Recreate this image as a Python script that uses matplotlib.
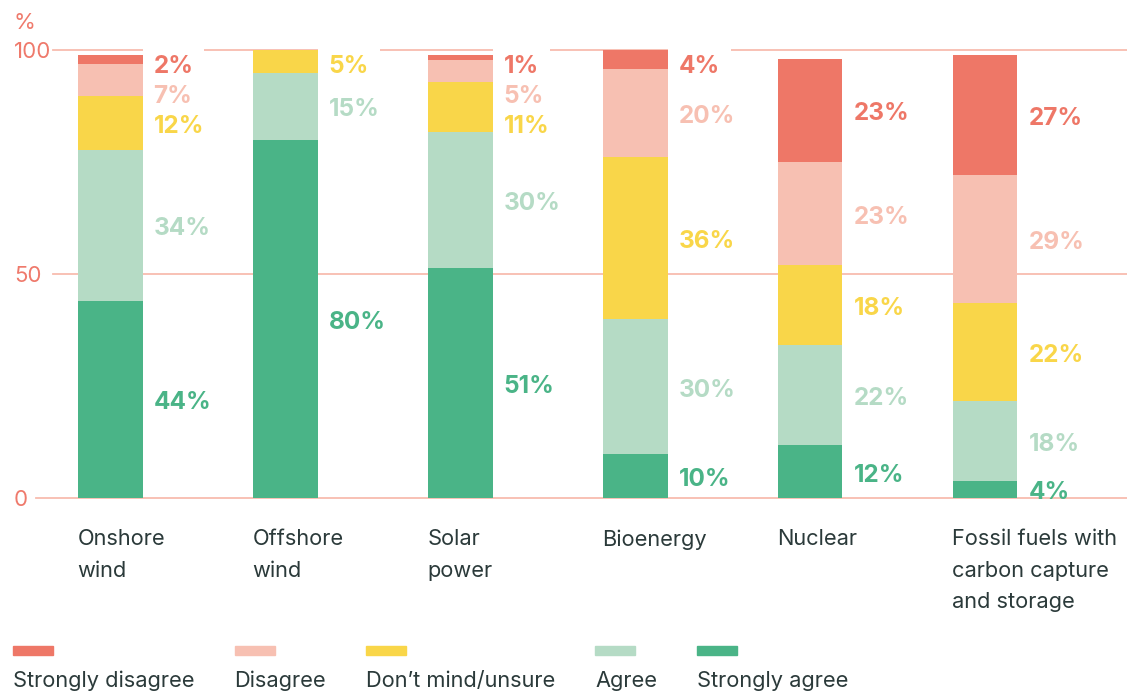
import matplotlib
matplotlib.use("Agg")
import matplotlib.pyplot as plt
from matplotlib.patches import Rectangle
import matplotlib.transforms as mtransforms
import numpy as np

categories = ["Onshore\nwind", "Offshore\nwind", "Solar\npower", "Bioenergy",
              "Nuclear", "Fossil fuels with\ncarbon capture\nand storage"]
strongly_agree = [44.0, 79.9, 51.3, 9.8, 11.8, 3.8]
agree = [33.7, 15.0, 30.4, 30.1, 22.3, 17.9]
unsure = [12.0, 5.1, 11.2, 36.2, 17.9, 21.8]
disagree = [7.2, 0.0, 4.9, 19.6, 23.0, 28.6]
strongly_disagree = [2.0, 0.0, 1.1, 4.2, 23.0, 26.8]
legend_labels = ["Strongly disagree", "Disagree", "Don\u2019t mind/unsure",
                 "Agree", "Strongly agree"]

colors = {
    "sa": "#4AB487",
    "a": "#B5DBC5",
    "u": "#F9D649",
    "d": "#F7C0B2",
    "sd": "#EE7767",
}
GRID = "#F8BCAF"
TICK = "#EF7A6C"
TEXT = "#2B3A3A"

plt.rcParams["font.family"] = ["Inter", "DejaVu Sans"]

W, H = 1127, 691
fig = plt.figure(figsize=(W / 100, H / 100), dpi=100)
ax = fig.add_axes([53 / W, (H - 498) / H, (W - 53) / W, 448 / H])
ax.set_xlim(-57 / 175, (W - 53 - 57) / 175)
ax.set_ylim(0, 100)
ax.axis("off")

# gridlines
for g in [50, 100]:
    ax.axhline(g, color=GRID, lw=1.3, zorder=0, clip_on=False)
ax.axhline(0, xmin=-17 / (W - 53), xmax=1, color=GRID, lw=1.3, zorder=0, clip_on=False)

ylab = mtransforms.blended_transform_factory(fig.transFigure, ax.transData)
for g in [0, 50, 100]:
    ax.text(14 / W, g, str(g), transform=ylab, ha="left", va="center_baseline",
            color=TICK, fontsize=16)
fig.text(14 / W, 1 - 21 / H, "%", ha="left", va="center_baseline", color=TICK,
         fontsize=16)

x = np.arange(len(categories))
width = 65 / 175
series = [("sa", strongly_agree), ("a", agree), ("u", unsure),
          ("d", disagree), ("sd", strongly_disagree)]

bottom = np.zeros(len(categories))
centers = []
for key, vals in series:
    vals = np.array(vals)
    ax.bar(x, vals, width, bottom=bottom, color=colors[key], zorder=2, clip_on=False)
    centers.append((key, vals, bottom + vals / 2))
    bottom = bottom + vals

# value labels, pushed apart from the top down
for i in range(len(categories)):
    prev = None
    for key, vals, ctr in reversed(centers):
        v = vals[i]
        if v <= 0:
            continue
        y = min(ctr[i], 97.0)
        if prev is not None:
            y = min(y, prev - 6.6)
        y = max(y, 2.0)
        prev = y
        kw = {}
        if abs(y - 100) < 5:
            kw["bbox"] = dict(boxstyle="square,pad=0.45", fc="white", ec="none")
        ax.annotate(f"{round(v):d}%", xy=(x[i] + width / 2, y), xytext=(11, -1),
                    textcoords="offset pixels", ha="left", va="center_baseline",
                    color=colors[key], fontsize=17.5, fontweight="bold",
                    zorder=3, annotation_clip=False, **kw)

# category labels
for i, c in enumerate(categories):
    ax.annotate(c, xy=(x[i] - width / 2, 0), xytext=(0, -31),
                textcoords="offset pixels", ha="left", va="top", color=TEXT,
                fontsize=15.7, linespacing=1.72, annotation_clip=False)

# legend
fig.canvas.draw()
renderer = fig.canvas.get_renderer()
lx = 13
legend_keys = ["sd", "d", "u", "a", "sa"]
for key, lab in zip(legend_keys, legend_labels):
    fig.patches.append(Rectangle((lx / W, (H - 655) / H), 40 / W, 9 / H,
                                 transform=fig.transFigure, color=colors[key]))
    t = fig.text(lx / W, (H - 687) / H, lab, ha="left", va="baseline",
                 color=TEXT, fontsize=15.7)
    lx += t.get_window_extent(renderer).width + 40

fig.savefig("out.png", dpi=100, facecolor="white")
